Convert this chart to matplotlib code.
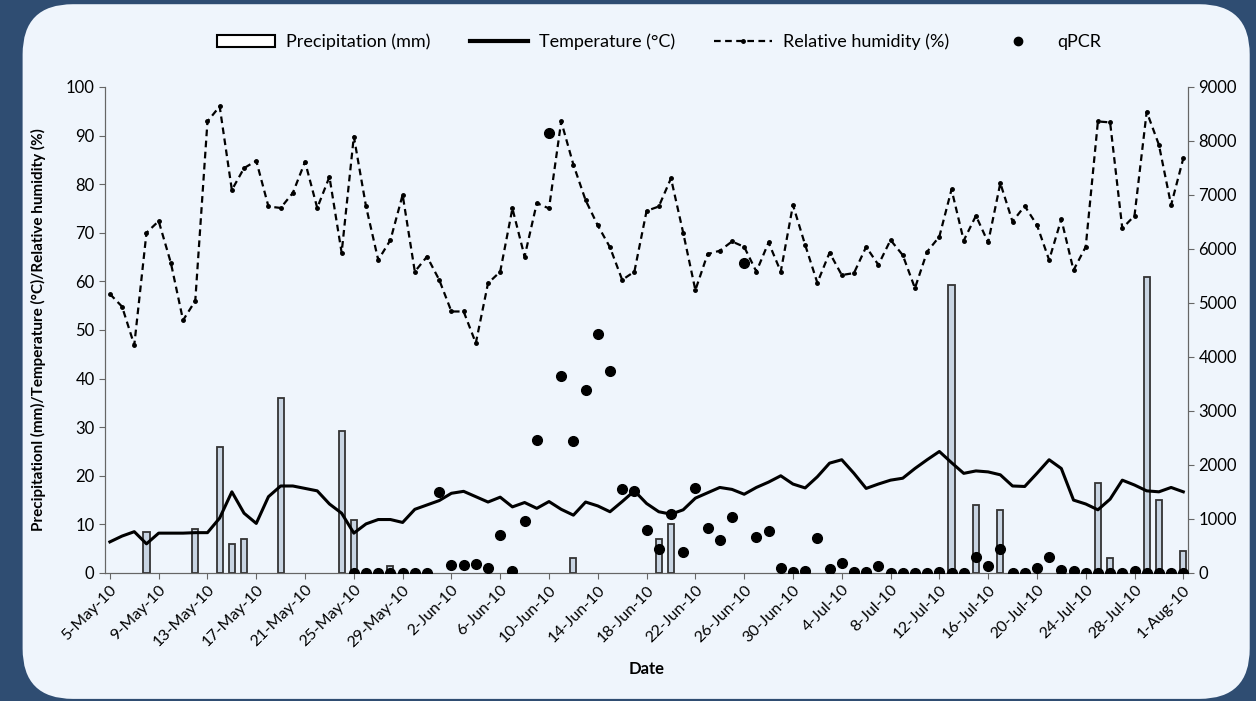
import numpy as np
import matplotlib.pyplot as plt
from matplotlib.patches import FancyBboxPatch, Patch
from matplotlib.lines import Line2D

# daily values, 5-May-10 .. 1-Aug-10 (day index 0..88)
humidity = [57.4, 54.8, 46.9, 70, 72.4, 63.8, 52, 56, 92.9, 96,
            78.8, 83.3, 84.8, 75.4, 75.1, 78.2, 84.6, 75.1, 81.5, 65.9,
            89.8, 75.4, 64.4, 68.5, 77.8, 62, 65.1, 60.3, 53.8, 53.8,
            47.3, 59.6, 62, 75, 65.1, 76.1, 75, 92.9, 84, 76.7,
            71.5, 67, 60.3, 62, 74.5, 75.4, 81.2, 70, 58.2, 65.6,
            66.3, 68.2, 67.1, 62, 68, 62, 75.7, 67.5, 59.7, 65.9,
            61.3, 61.7, 67.1, 63.4, 68.5, 65.4, 58.6, 66.1, 69.2, 78.9,
            68.4, 73.5, 68, 80.2, 72.3, 75.5, 71.6, 64.4, 72.8, 62.3,
            67.1, 92.9, 92.7, 70.9, 73.5, 94.9, 88.1, 75.7, 85.3]

temperature = [6.4, 7.6, 8.5, 6, 8.2, 8.2, 8.2, 8.3, 8.3, 11.3,
               16.7, 12.3, 10.2, 15.7, 17.9, 17.9, 17.4, 16.9, 14.2, 12.3,
               8.2, 10.1, 11, 11, 10.4, 13.1, 14, 14.9, 16.4, 16.8,
               15.7, 14.6, 15.6, 13.6, 14.5, 13.3, 14.7, 13.1, 11.9, 14.6,
               13.8, 12.6, 14.7, 16.9, 14.3, 12.6, 12.1, 13, 15.4, 16.5,
               17.6, 17.2, 16.2, 17.6, 18.7, 20, 18.3, 17.5, 19.8, 22.6,
               23.3, 20.5, 17.4, 18.3, 19.1, 19.5, 21.5, 23.3, 25, 22.7,
               20.5, 21, 20.8, 20.2, 17.9, 17.8, 20.5, 23.3, 21.5, 15,
               14.2, 13, 15.2, 19.1, 18.1, 16.9, 16.7, 17.6, 16.7]

# precipitation: day index -> mm
precip_days = [3, 7, 9, 10, 11, 14, 19, 20, 23, 38, 45, 46, 69, 71, 73, 81, 82, 85, 86, 88]
precip_mm = [8.5, 9, 26, 6, 7, 36, 29.3, 11, 1.5, 3, 7, 10, 59.3, 14, 13, 18.5, 3, 60.8, 15, 4.6]

# qPCR from day 20 (25-May-10) onwards
qpcr_start = 20
qpcr = [0, 0, 0, 0, 0, 0, 0, 1500, 140, 150,
        175, 95, 700, 40, 960, 2470, 8150, 3650, 2450, 3390,
        4430, 3740, 1560, 1520, 790, 440, 1100, 380, 1580, 840,
        620, 1040, 5740, 660, 780, 100, 25, 45, 650, 80,
        190, 25, 25, 130, 0, 0, 0, 0, 20, 0,
        0, 300, 130, 450, 0, 0, 85, 295, 55, 40,
        0, 0, 0, 0, 40, 0, 0, 0, 0]

tick_labels = ['5-May-10', '9-May-10', '13-May-10', '17-May-10', '21-May-10',
               '25-May-10', '29-May-10', '2-Jun-10', '6-Jun-10', '10-Jun-10',
               '14-Jun-10', '18-Jun-10', '22-Jun-10', '26-Jun-10', '30-Jun-10',
               '4-Jul-10', '8-Jul-10', '12-Jul-10', '16-Jul-10', '20-Jul-10',
               '24-Jul-10', '28-Jul-10', '1-Aug-10']

plt.rcParams['font.family'] = ['Lato', 'DejaVu Sans']

days = np.arange(len(humidity))
qpcr_days = np.arange(qpcr_start, qpcr_start + len(qpcr))

fig = plt.figure(figsize=(12.56, 7.01), dpi=100)
fig.patch.set_facecolor('#2f4d72')
card = FancyBboxPatch((0.018, 0.003), 0.977, 0.991,
                      boxstyle='round,pad=0,rounding_size=0.04',
                      mutation_aspect=1256 / 701,
                      transform=fig.transFigure, facecolor='#eff5fc',
                      edgecolor='none', zorder=-10)
fig.patches.append(card)

ax = fig.add_axes([0.0836, 0.1826, 0.8624, 0.6934])
ax.patch.set_visible(False)

ax.bar(precip_days, precip_mm, width=0.5, facecolor='#c8d4e2',
       edgecolor='#333333', linewidth=1.3, zorder=2)
ax.plot(days, temperature, color='black', lw=2.2, zorder=3)
ax.plot(days, humidity, color='black', lw=1.6, ls=(0, (3, 2)),
        marker='.', ms=5, zorder=3)

ax.set_xlim(-0.4, 88.4)
ax.set_ylim(0, 100)
ax.set_yticks(range(0, 101, 10))
ax.set_xticks(days[::4])
ax.set_xticklabels(tick_labels, rotation=45, ha='right', rotation_mode='anchor')
ax.tick_params(axis='x', length=4, color='#666666', labelsize=11.5, pad=3)
ax.tick_params(axis='y', length=4, color='#666666', labelsize=12)
ax.set_xlabel('Date', fontsize=12, fontweight='bold', labelpad=8)
ax.set_ylabel('Precipitationl (mm)/Temperature (°C)/Relative humidity (%)',
              fontsize=11, fontweight='bold', labelpad=14)
for s in ['left', 'right', 'bottom']:
    ax.spines[s].set_color('#666666')
ax.spines['top'].set_visible(False)

ax2 = ax.twinx()
ax2.plot(qpcr_days, qpcr, 'o', color='black', ms=7, zorder=4)
ax2.set_ylim(0, 9000)
ax2.set_yticks(range(0, 9001, 1000))
ax2.tick_params(axis='y', length=4, color='#666666', labelsize=12)
for s in ['left', 'right', 'bottom']:
    ax2.spines[s].set_color('#666666')
ax2.spines['top'].set_visible(False)

handles = [Patch(facecolor='white', edgecolor='black', linewidth=1.5),
           Line2D([], [], color='black', lw=3),
           Line2D([], [], color='black', lw=1.6, ls=(0, (3, 2)), marker='.', ms=5),
           Line2D([], [], color='black', marker='o', ms=6, ls='none')]
labels = ['Precipitation (mm)', 'Temperature (°C)', 'Relative humidity (%)', 'qPCR']
fig.legend(handles, labels, loc='center', bbox_to_anchor=(0.525, 0.94), ncol=4,
           frameon=False, fontsize=13, columnspacing=2.2, handlelength=3.2,
           handletextpad=0.6)

fig.savefig('out.png', dpi=100, facecolor=fig.get_facecolor())
